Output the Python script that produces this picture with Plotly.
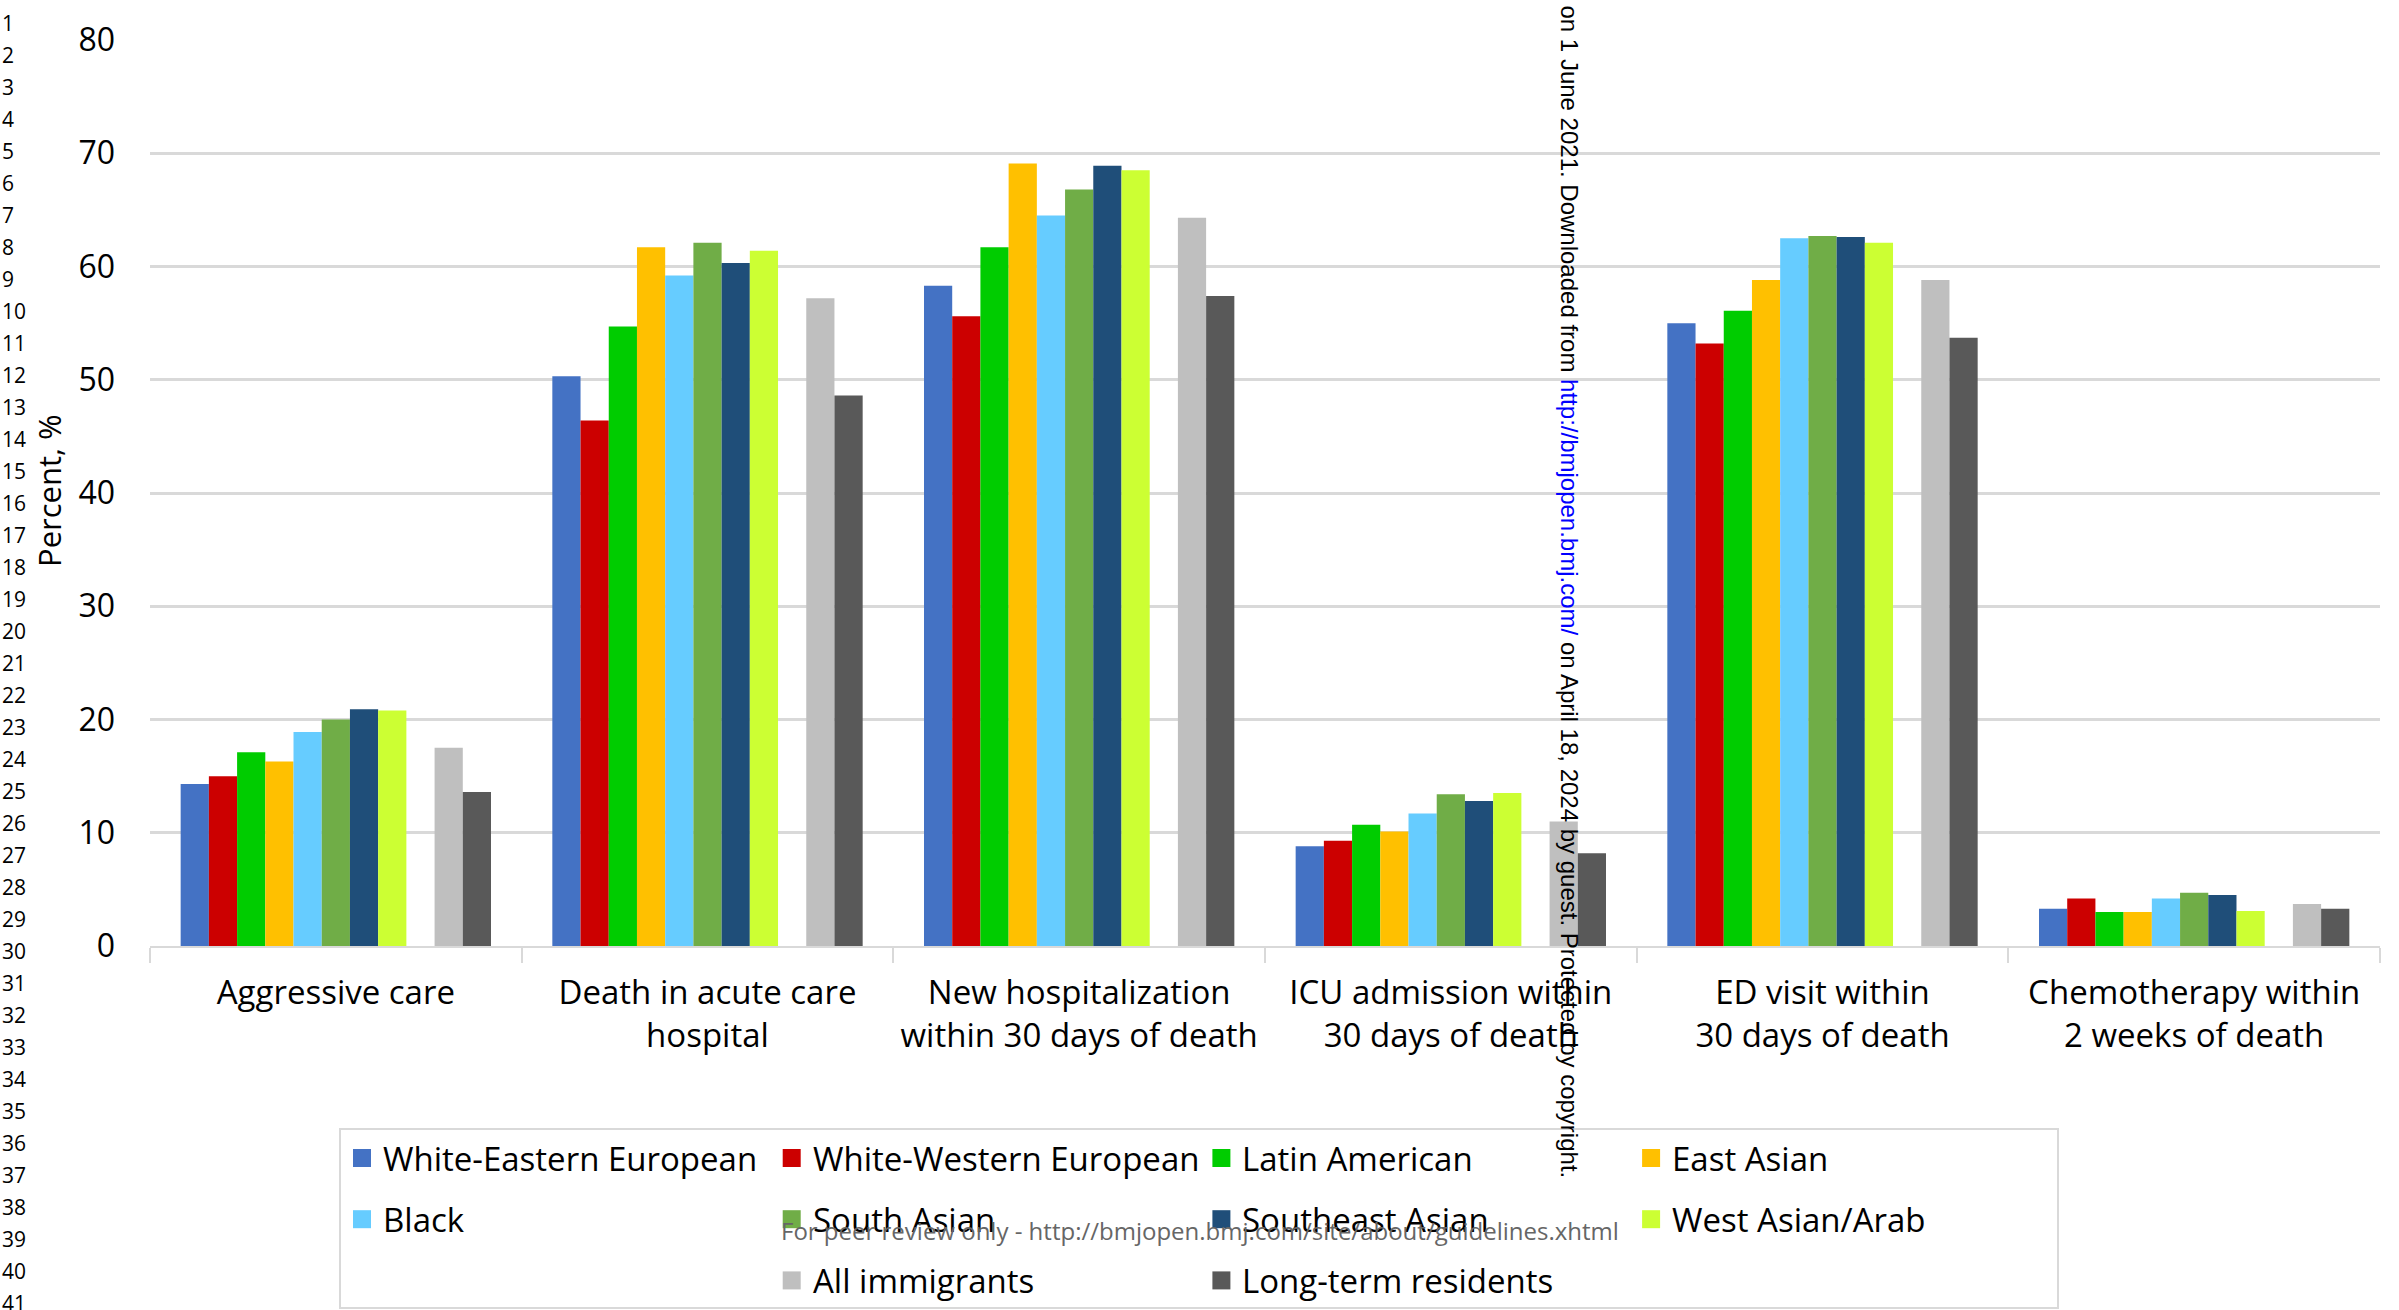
import plotly.graph_objects as go

# --- data -----------------------------------------------------------------
categories = [
    "Aggressive care",
    "Death in acute care<br>hospital",
    "New hospitalization<br>within 30 days of death",
    "ICU admission within<br>30 days of death",
    "ED visit within<br>30 days of death",
    "Chemotherapy within<br>2 weeks of death",
]

white_eastern_european = [14.3, 50.3, 58.3, 8.8, 55.0, 3.3]
white_western_european = [15.0, 46.4, 55.6, 9.3, 53.2, 4.2]
latin_american = [17.1, 54.7, 61.7, 10.7, 56.1, 3.0]
east_asian = [16.3, 61.7, 69.1, 10.1, 58.8, 3.0]
black = [18.9, 59.2, 64.5, 11.7, 62.5, 4.2]
south_asian = [20.0, 62.1, 66.8, 13.4, 62.7, 4.7]
southeast_asian = [20.9, 60.3, 68.9, 12.8, 62.6, 4.5]
west_asian_arab = [20.8, 61.4, 68.5, 13.5, 62.1, 3.1]
spacer = [None, None, None, None, None, None]
all_immigrants = [17.5, 57.2, 64.3, 11.0, 58.8, 3.7]
long_term_residents = [13.6, 48.6, 57.4, 8.2, 53.7, 3.3]

series_names = [
    "White-Eastern European", "White-Western European", "Latin American",
    "East Asian", "Black", "South Asian", "Southeast Asian",
    "West Asian/Arab", "", "All immigrants", "Long-term residents",
]
series_values = [
    white_eastern_european, white_western_european, latin_american,
    east_asian, black, south_asian, southeast_asian, west_asian_arab,
    spacer, all_immigrants, long_term_residents,
]
series_colors = [
    "#4472C4", "#CC0000", "#00CC00", "#FFC000", "#66CCFF", "#70AD47",
    "#1F4E79", "#CCFF33", "rgba(0,0,0,0)", "#BFBFBF", "#595959",
]

y_ticks = [0, 10, 20, 30, 40, 50, 60, 70, 80]

# --- page geometry (pixels) -----------------------------------------------
W, H = 2399, 1310
L, R, T, B = 150, 19, 40, 364
PW, PH = W - L - R, H - T - B
FONT = "Open Sans"


def px_x(px):
    return (px - L) / PW


def px_y(py):
    return (H - B - py) / PH


fig = go.Figure()
for name, vals, col in zip(series_names, series_values, series_colors):
    fig.add_trace(go.Bar(
        x=categories, y=vals, name=name if name else " ",
        marker=dict(color=col, line=dict(width=0)),
        showlegend=False,
    ))

annotations = []
shapes = []

# y-axis title
annotations.append(dict(
    text="Percent, %", textangle=-90, x=px_x(49), y=px_y(491),
    xref="paper", yref="paper", xanchor="center", yanchor="middle",
    showarrow=False, font=dict(family=FONT, size=31, color="#000000"),
))

# legend box with swatches, laid out in a 4-column grid
leg_left, leg_top, leg_right, leg_bottom = 340, 1129, 2058, 1308
shapes.append(dict(
    type="rect", xref="paper", yref="paper",
    x0=px_x(leg_left), x1=px_x(leg_right), y0=px_y(leg_bottom), y1=px_y(leg_top),
    line=dict(color="#D9D9D9", width=2), fillcolor="rgba(0,0,0,0)",
))
col_pitch, row_pitch = 429.7, 61.2
first_sw_x, first_row_y, sw = 353, 1158, 18
for i, (name, col) in enumerate(zip(series_names, series_colors)):
    if not name:
        continue
    c, r = i % 4, i // 4
    sx = first_sw_x + c * col_pitch
    cy = first_row_y + r * row_pitch
    shapes.append(dict(
        type="rect", xref="paper", yref="paper",
        x0=px_x(sx), x1=px_x(sx + sw), y0=px_y(cy + sw / 2), y1=px_y(cy - sw / 2),
        line=dict(width=0), fillcolor=col,
    ))
    annotations.append(dict(
        text=name, x=px_x(sx + sw + 10), y=px_y(cy),
        xref="paper", yref="paper", xanchor="left", yanchor="middle",
        showarrow=False, font=dict(family=FONT, size=33, color="#000000"),
    ))

# manuscript line numbers down the left margin
for n in range(1, 42):
    annotations.append(dict(
        text=str(n), x=px_x(0), y=px_y(23 + (n - 1) * 32.0),
        xref="paper", yref="paper", xanchor="left", yanchor="middle",
        showarrow=False, font=dict(family=FONT, size=21, color="#000000"),
    ))

# footer
annotations.append(dict(
    text="For peer review only - http://bmjopen.bmj.com/site/about/guidelines.xhtml",
    x=px_x(1200), y=px_y(1230), xref="paper", yref="paper",
    xanchor="center", yanchor="middle", showarrow=False,
    font=dict(family=FONT, size=24, color="#666666"),
))

# vertical download notice
annotations.append(dict(
    text=("on 1 June 2021. Downloaded from "
          "<span style='color:#0000FF'>http://bmjopen.bmj.com/</span>"
          " on April 18, 2024 by guest. Protected by copyright."),
    textangle=90, x=px_x(1569), y=px_y(1180),
    xref="paper", yref="paper", xanchor="center", yanchor="bottom",
    showarrow=False, font=dict(family="Liberation Sans", size=24, color="#000000"),
))

fig.update_layout(
    width=W, height=H,
    margin=dict(l=L, r=R, t=T, b=B, pad=0),
    paper_bgcolor="white", plot_bgcolor="white",
    barmode="group", bargap=0.165, bargroupgap=0,
    showlegend=False,
    font=dict(family=FONT, color="#000000"),
    annotations=annotations, shapes=shapes,
)
fig.update_xaxes(
    type="category", showgrid=False, showline=True, linecolor="#D9D9D9",
    linewidth=2, ticks="outside", tickson="boundaries", ticklen=15,
    tickcolor="#D9D9D9", tickwidth=2, ticklabelstandoff=16,
    tickfont=dict(family=FONT, size=33, color="#000000"),
)
fig.update_yaxes(
    range=[0, 80], tickvals=y_ticks, showgrid=True, gridcolor="#D9D9D9",
    gridwidth=2.5, zeroline=False, showline=False, ticks="",
    ticklabelstandoff=34,
    tickfont=dict(family=FONT, size=32, color="#000000"),
)

fig.write_html("out.html")
